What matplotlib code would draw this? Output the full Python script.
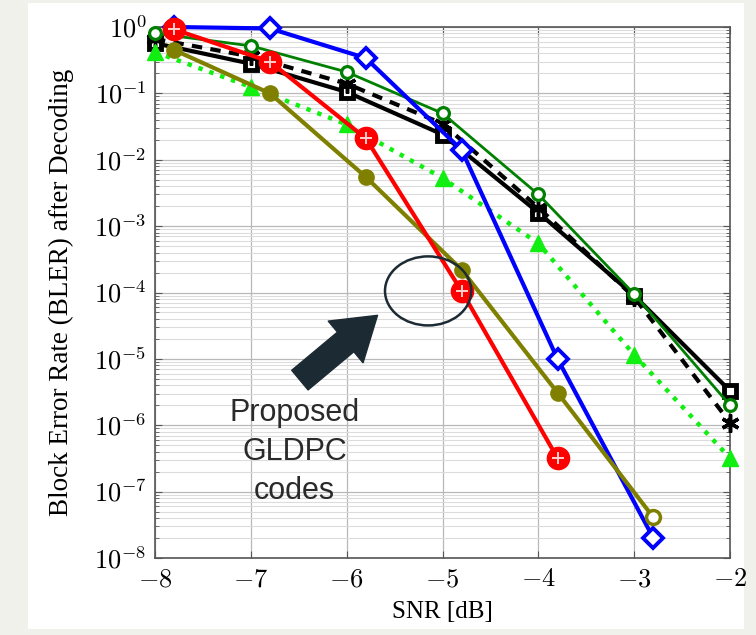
import matplotlib
matplotlib.use("Agg")
import matplotlib.pyplot as plt
from matplotlib.patches import Ellipse, Rectangle
from matplotlib.ticker import LogLocator, NullFormatter, FixedLocator

plt.rcParams['mathtext.fontset'] = 'cm'

# ---- data ----
snr_a = [-8, -7, -6, -5, -4, -3, -2]
snr_b = [-7.8, -6.8, -5.8, -4.8, -3.8, -2.8]

black_sq = [0.57, 0.28, 0.105, 0.024, 0.0016, 9e-5, 3.3e-6]
black_ast = [0.66, 0.36, 0.14, 0.035, 0.0019, 8.5e-5, 1.1e-6]
green_circ = [0.8, 0.52, 0.21, 0.05, 0.003, 9.5e-5, 2e-6]
lime_tri = [0.42, 0.125, 0.034, 0.0053, 5.5e-4, 1.15e-5, 3.2e-7]

blue_dia = [1.0, 0.95, 0.34, 0.014, 1.0e-5, 2e-8]
olive_circ = [0.45, 0.1, 0.0055, 2.2e-4, 3.1e-6, 4.1e-8]
red_otimes = [0.92, 0.3, 0.021, 1.05e-4, 3.2e-7]

xticks = [-8, -7, -6, -5, -4, -3, -2]
yexp = list(range(-8, 1))

fig = plt.figure(figsize=(7.56, 6.35), dpi=100)
fig.patch.set_facecolor('#f1f1ec')
bg = Rectangle((28/756, 6/635), (744-28)/756, (632-6)/635,
               transform=fig.transFigure, facecolor='white', edgecolor='none', zorder=-5)
fig.patches.append(bg)

ax = fig.add_axes([155/756, 1-558/635, 575/756, 531/635])
ax.set_zorder(2)
ax.set_yscale('log')
ax.set_xlim(-8, -2)
ax.set_ylim(1e-8, 1)

ax.xaxis.set_major_locator(FixedLocator(xticks))
ax.set_xticklabels([r'$-%d$' % (-v) for v in xticks])
ax.yaxis.set_major_locator(FixedLocator([10.0**e for e in yexp]))
ax.set_yticklabels([r'$10^{%d}$' % e for e in yexp])
ax.yaxis.set_minor_locator(LogLocator(base=10, subs=range(2, 10), numticks=20))
ax.yaxis.set_minor_formatter(NullFormatter())

ax.grid(True, which='major', color='#b8b8b8', lw=0.9)
ax.grid(True, which='minor', axis='y', color='#dcdcdc', lw=0.8)
ax.tick_params(which='both', direction='in', top=True, right=True, color='#555555')
ax.tick_params(which='major', length=5, labelsize=19, pad=6)
ax.tick_params(which='minor', length=3)
for s in ax.spines.values():
    s.set_color('#555555')
    s.set_linewidth(1.2)

ax.plot(snr_a, black_sq, color='black', lw=3, marker='s', ms=9, mfc='white',
        mec='black', mew=3.5, clip_on=False, zorder=3)
ax.plot(snr_a, black_ast, color='black', lw=3, ls=(0, (2.5, 2)), marker=(6, 2, 0),
        ms=13, mec='black', mew=2.5, clip_on=False, zorder=3)
ax.plot(snr_a, green_circ, color='#008000', lw=2, marker='o', ms=8.5, mfc='white',
        mec='#008000', mew=2.3, clip_on=False, zorder=3)
ax.plot(snr_a, lime_tri, color='#11ee11', lw=3.2, ls=(0, (1, 1.6)), marker='^',
        ms=11, mfc='#11ee11', mec='#11ee11', clip_on=False, zorder=3)
ax.plot(snr_b, blue_dia, color='#0000ff', lw=3, marker='D', ms=10, mfc='white',
        mec='#0000ff', mew=2.8, clip_on=False, zorder=4)
ax.plot(snr_b, olive_circ, color='#808000', lw=3, marker='o', ms=11, mfc='#808000',
        mec='#808000', markevery=slice(0, len(olive_circ) - 1), clip_on=False, zorder=4)
ax.plot(snr_b[-1:], olive_circ[-1:], ls='none', marker='o', ms=10, mfc='white',
        mec='#808000', mew=2.5, clip_on=False, zorder=4)
ax.plot(snr_b[:len(red_otimes)], red_otimes, color='#ff0000', lw=3, marker='o', ms=16,
        mfc='#ff0000', mec='#ff0000', clip_on=False, zorder=5)
ax.plot(snr_b[:len(red_otimes)], red_otimes, ls='none', marker='+', ms=8,
        mec='#ffd0d0', mew=1.4, clip_on=False, zorder=6)

ax.set_xlabel('SNR [dB]', fontfamily='Liberation Serif', fontsize=18, labelpad=6)
ax.set_ylabel('Block Error Rate (BLER) after Decoding', fontfamily='Liberation Serif',
              fontsize=19.5, labelpad=14)

# annotation
ax.add_patch(Ellipse((0.475, 0.503), 0.15, 0.13, transform=ax.transAxes,
                     facecolor='none', edgecolor='#1c2a33', lw=1.8, zorder=7))
ax.annotate('', xy=(0.387, 0.457), xytext=(0.252, 0.335), xycoords='axes fraction',
            textcoords='axes fraction',
            arrowprops=dict(arrowstyle='simple,head_length=1.3,head_width=1.7,tail_width=0.8',
                            color='#1c2a33', shrinkA=0, shrinkB=0, mutation_scale=23),
            zorder=7)
ax.text(0.243, 0.2, 'Proposed\nGLDPC\ncodes', transform=ax.transAxes, ha='center',
        va='center', fontfamily='Liberation Sans', fontsize=22, color='#2a2a2a',
        linespacing=1.4, zorder=7)

fig.savefig('out.png', dpi=100, facecolor=fig.get_facecolor())
